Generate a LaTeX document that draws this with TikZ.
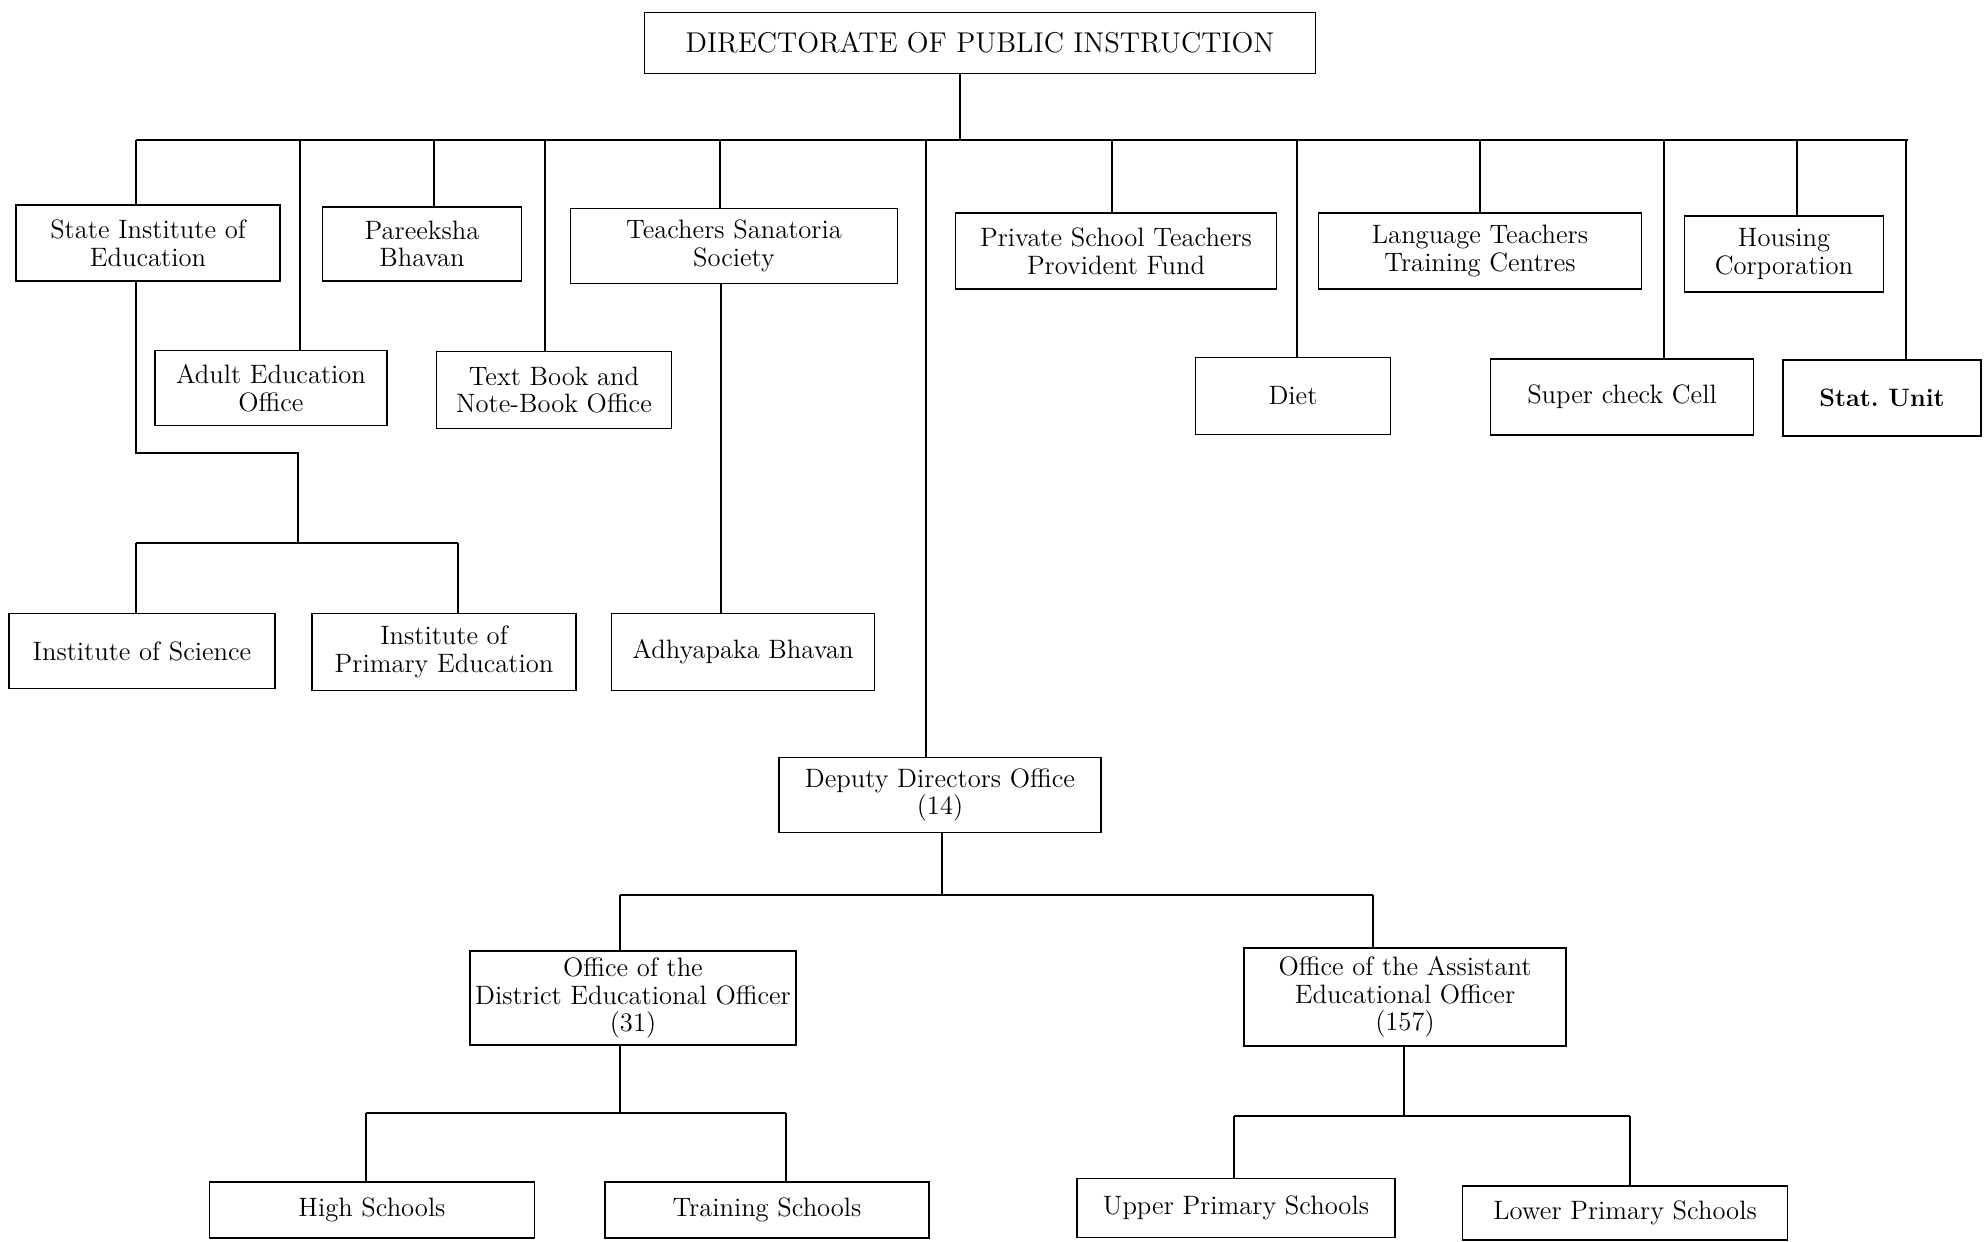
\documentclass[tikz,border=0pt]{standalone}
\usepackage{fontspec}
\begin{document}
\begin{tikzpicture}[x=0.5pt,y=-0.5pt,
  box/.style={draw, line width=0.9pt, align=center, inner sep=0pt, font=\fontsize{13.3}{13.8}\selectfont},
  conn/.style={line width=0.9pt}]
\useasboundingbox (0,0) rectangle (1988,1242);
% top
\node[box, minimum width=335.5pt, minimum height=30.5pt, font=\fontsize{14.3}{16}\selectfont] (dpi) at (980,43) {DIRECTORATE OF PUBLIC INSTRUCTION};
% first row
\node[box, minimum width=132pt, minimum height=38pt] (sie) at (148,243) {State Institute of\\Education};
\node[box, minimum width=116pt, minimum height=37.5pt] (adult) at (271,388) {Adult Education\\Office};
\node[box, minimum width=99.5pt, minimum height=37pt] (pb) at (422,244) {Pareeksha\\Bhavan};
\node[box, minimum width=117.5pt, minimum height=38.5pt] (tb) at (554,390) {Text Book and\\Note-Book Office};
\node[box, minimum width=163.5pt, minimum height=37.5pt] (tss) at (734,246) {Teachers Sanatoria\\Society};
\node[box, minimum width=160.5pt, minimum height=38pt] (ps) at (1116,251) {Private School Teachers\\Provident Fund};
\node[box, minimum width=97.5pt, minimum height=38.5pt] (diet) at (1293,396) {Diet};
\node[box, minimum width=161.5pt, minimum height=38pt] (lt) at (1480,251) {Language Teachers\\Training Centres};
\node[box, minimum width=131.5pt, minimum height=38pt] (sc) at (1622,397) {Super check Cell};
\node[box, minimum width=99.5pt, minimum height=38pt] (hc) at (1784,254) {Housing\\Corporation};
\node[box, minimum width=99pt, minimum height=38pt, font=\fontsize{12.6}{13.8}\selectfont\bfseries] (su) at (1882,398) {Stat.\ Unit};
% second level
\node[box, minimum width=133pt, minimum height=37.5pt] (is) at (142,651) {Institute of Science};
\node[box, minimum width=132pt, minimum height=38.5pt] (ipe) at (444,652) {Institute of\\Primary Education};
\node[box, minimum width=131.5pt, minimum height=38.5pt] (ab) at (743,652) {Adhyapaka Bhavan};
\node[box, minimum width=161pt, minimum height=37.5pt] (dd) at (940,795) {Deputy Directors Office\\(14)};
\node[box, minimum width=163pt, minimum height=47pt] (deo) at (633,998) {Office of the\\District Educational Officer\\(31)};
\node[box, minimum width=161pt, minimum height=49pt] (aeo) at (1405,997) {Office of the Assistant\\Educational Officer\\(157)};
\node[box, minimum width=162.5pt, minimum height=28pt] (hs) at (372,1210) {High Schools};
\node[box, minimum width=162pt, minimum height=28pt] (ts) at (767,1210) {Training Schools};
\node[box, minimum width=159pt, minimum height=29.5pt] (ups) at (1236,1208) {Upper Primary Schools};
\node[box, minimum width=162.5pt, minimum height=27pt] (lps) at (1625,1213) {Lower Primary Schools};

% main bus
\coordinate (j0) at (960,140);
\coordinate (busL) at (136,140);
\coordinate (busR) at (1908,140);
\draw[conn] (busL) -- (busR);
\draw[conn] (j0) -- (j0 |- dpi.south);
\foreach \nm/\xx in {sie/136, adult/300, pb/434, tb/545, tss/720, dd/926, ps/1112, diet/1297, lt/1480, sc/1664, hc/1797, su/1906}{
  \coordinate (d-\nm) at (\xx,140);
  \draw[conn] (d-\nm) -- (d-\nm |- \nm.north);
}
% State Institute subtree
\coordinate (s1) at (136,453);
\coordinate (s2) at (298,453);
\coordinate (s3) at (298,543);
\coordinate (sbL) at (136,543);
\coordinate (sbR) at (458,543);
\draw[conn] (s1 |- sie.south) -- (s1) -- (s2) -- (s3);
\draw[conn] (sbL) -- (sbR);
\draw[conn] (sbL) -- (sbL |- is.north);
\draw[conn] (sbR) -- (sbR |- ipe.north);
% Sanatoria -> Adhyapaka
\coordinate (t1) at (721,300);
\draw[conn] (t1 |- tss.south) -- (t1 |- ab.north);
% Deputy directors subtree
\coordinate (q0) at (942,895);
\coordinate (qL) at (620,895);
\coordinate (qR) at (1373,895);
\draw[conn] (q0 |- dd.south) -- (q0);
\draw[conn] (qL) -- (qR);
\draw[conn] (qL) -- (qL |- deo.north);
\draw[conn] (qR) -- (qR |- aeo.north);
% DEO subtree
\coordinate (e0) at (620,1113);
\coordinate (eL) at (366,1113);
\coordinate (eR) at (786,1113);
\draw[conn] (e0 |- deo.south) -- (e0);
\draw[conn] (eL) -- (eR);
\draw[conn] (eL) -- (eL |- hs.north);
\draw[conn] (eR) -- (eR |- ts.north);
% AEO subtree
\coordinate (a0) at (1404,1116);
\coordinate (aL) at (1234,1116);
\coordinate (aR) at (1630,1116);
\draw[conn] (a0 |- aeo.south) -- (a0);
\draw[conn] (aL) -- (aR);
\draw[conn] (aL) -- (aL |- ups.north);
\draw[conn] (aR) -- (aR |- lps.north);
\end{tikzpicture}
\end{document}
